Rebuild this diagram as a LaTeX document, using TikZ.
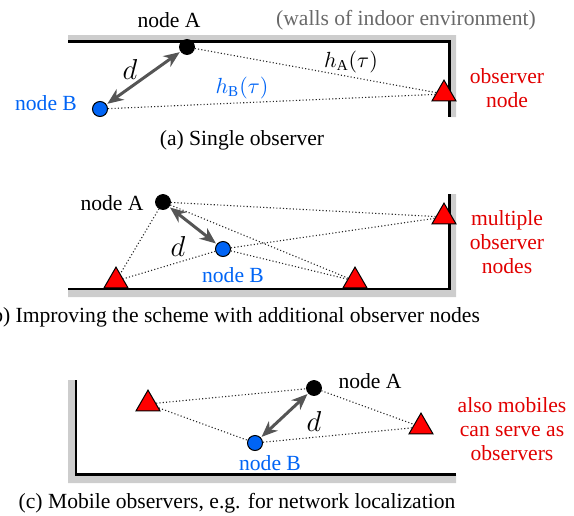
\documentclass[tikz,border=0pt]{standalone}
\usepackage{fontspec}
\setmainfont{Liberation Serif}
\usepackage{tikz}
\usetikzlibrary{arrows.meta,shapes,positioning}
\definecolor{nodeblue}{RGB}{0,100,245}
\definecolor{obsred}{RGB}{225,0,0}
\definecolor{wallgray}{RGB}{205,205,205}
\definecolor{textgray}{RGB}{105,105,105}
\definecolor{arrowgray}{RGB}{85,85,85}

\begin{document}
\begin{tikzpicture}[x=0.5pt,y=-0.5pt,>={Stealth[length=8pt,width=6.5pt,inset=2.5pt]},font=\fontsize{10.8}{12}\selectfont]
    \tikzstyle{nodeA}=[circle,draw=black,fill=black,inner sep=0pt,minimum size=7.5pt]
    \tikzstyle{nodeB}=[circle,draw=black,fill=nodeblue,inner sep=0pt,minimum size=7.5pt,line width=0.5pt]
    \tikzstyle{observer}=[regular polygon,regular polygon sides=3,draw=black,fill=red,inner sep=0pt,minimum size=13.9pt,line width=0.5pt]
    \tikzstyle{link}=[black!85,line width=0.55pt,dash pattern=on 0.55pt off 1.1pt]
    \tikzstyle{dist}=[<->,arrowgray,line width=1.5pt,shorten <=0.5pt,shorten >=0.5pt]
    \tikzstyle{distlabel}=[font=\fontsize{13.5}{16}\selectfont]
    \tikzstyle{wall}=[fill=wallgray]
    \tikzstyle{wallline}=[line width=1.3pt,black,line join=miter]
    \tikzstyle{redtext}=[text=obsred,align=center]

    \useasboundingbox (0,0) rectangle (574,515);

    % (a) single observer
    \fill[wall] (68,35) -- (456,35) -- (456,117) -- (449.5,117) -- (449.5,41.5) -- (68,41.5) -- cycle;
    \draw[wallline] (68,41.5) -- (449.5,41.5) -- (449.5,117);
    \node[nodeA] (A1) at (187,47) {};
    \node[nodeB] (B1) at (100,109) {};
    \node[observer] (T1) at (444,94) {};
    \draw[link] (A1) -- (T1);
    \draw[link] (B1) -- (T1);
    \draw[dist] (B1) -- (A1);
    \node[distlabel] (d1) at (130,69) {$d$};
    \node (labelA1) at (169,20) {node A};
    \node[text=textgray] (walls) at (406,20) {(walls of indoor environment)};
    \node (hA) at (351,62) {$h_{\mathrm{A}}(\tau)$};
    \node[text=nodeblue] (hB) at (242,88) {$h_{\mathrm{B}}(\tau)$};
    \node[text=nodeblue] (labelB1) at (46,103) {node B};
    \node[redtext] (obs1) at (507,88.5) {observer\\node};
    \node (capa) at (242,140) {(a) Single observer};

    % (b) additional observers
    \fill[wall] (449.5,194) -- (456,194) -- (456,297) -- (68,297) -- (68,289) -- (449.5,289) -- cycle;
    \draw[wallline] (449.5,194) -- (449.5,289) -- (68,289);
    \node[nodeA] (A2) at (163,202) {};
    \node[nodeB] (B2) at (223,249) {};
    \node[observer] (T21) at (116,281) {};
    \node[observer] (T22) at (355,281) {};
    \node[observer] (T23) at (444,217) {};
    \foreach \t in {T21,T22,T23} {
      \draw[link] (A2) -- (\t);
      \draw[link] (B2) -- (\t);
    }
    \draw[dist] (A2) -- (B2);
    \node[distlabel] (d2) at (178,246) {$d$};
    \node (labelA2) at (112,203) {node A};
    \node[text=nodeblue] (labelB2) at (233,275) {node B};
    \node[redtext] (obs2) at (507,242) {multiple\\observer\\nodes};
    \node[anchor=east] (capb) at (487,317) {(b) Improving the scheme with additional observer nodes};

    % (c) mobile observers
    \fill[wall] (68,380) -- (76,380) -- (76,474.5) -- (456,474.5) -- (456,483) -- (68,483) -- cycle;
    \draw[wallline] (76,380) -- (76,474.5) -- (456,474.5);
    \node[nodeA] (A3) at (314,388) {};
    \node[nodeB] (B3) at (255,443) {};
    \node[observer] (T31) at (148,404) {};
    \node[observer] (T32) at (421,427) {};
    \draw[link] (T31) -- (A3);
    \draw[link] (T31) -- (B3);
    \draw[link] (A3) -- (T32);
    \draw[link] (B3) -- (T32);
    \draw[dist] (B3) -- (A3);
    \node[distlabel] (d3) at (314,421) {$d$};
    \node (labelA3) at (370,381) {node A};
    \node[text=nodeblue] (labelB3) at (270,463) {node B};
    \node[redtext] (obs3) at (512,429) {also mobiles\\can serve as\\observers};
    \node (capc) at (237,503) {(c) Mobile observers, e.g. for network localization};
\end{tikzpicture}
\end{document}
